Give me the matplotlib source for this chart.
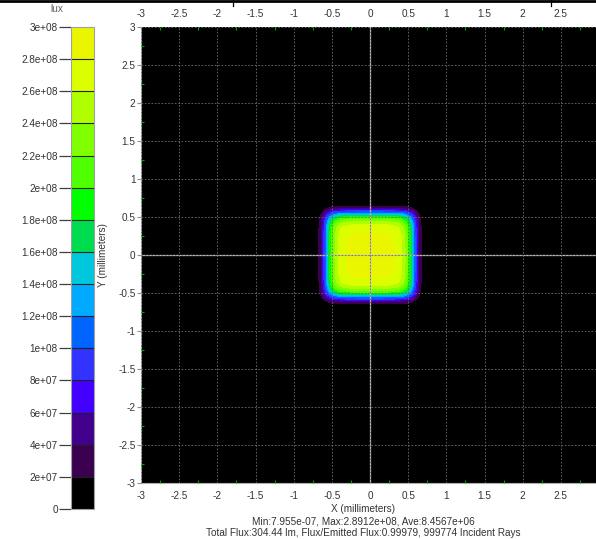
import numpy as np
import matplotlib
matplotlib.use("Agg")
import matplotlib.pyplot as plt
from matplotlib.lines import Line2D

plt.rcParams["font.family"] = ["Liberation Sans", "DejaVu Sans"]

# Illuminance profile across one edge of the spot (mm, lux)
edge_pos = [-0.72, -0.67, -0.64, -0.62, -0.605, -0.59, -0.575, -0.56, -0.545,
            -0.53, -0.51, -0.49, -0.46, -0.42, -0.36, -0.25, 0.0]
edge_lux = [0.0, 2.0e7, 4.0e7, 6.0e7, 8.0e7, 1.0e8, 1.2e8, 1.4e8, 1.6e8,
            1.8e8, 2.0e8, 2.2e8, 2.4e8, 2.6e8, 2.78e8, 2.86e8, 2.89e8]
y_scale = 0.96  # spot is a bit shorter in Y than in X

# colour bands of the legend (lux)
levels = [0, 2e7, 4e7, 6e7, 8e7, 1e8, 1.2e8, 1.4e8, 1.6e8, 1.8e8,
          2e8, 2.2e8, 2.4e8, 2.6e8, 2.8e8, 3e8]
band_colors = ["#000000", "#3c0050", "#42008c", "#4400ff", "#3333ff",
               "#0064ff", "#00aaff", "#00c8dc", "#00dc50", "#00ff00",
               "#50ff00", "#80ff00", "#b0ff00", "#dcff00", "#eaf500"]
cbar_labels = ["0", "2e+07", "4e+07", "6e+07", "8e+07", "1e+08", "1.2e+08",
               "1.4e+08", "1.6e+08", "1.8e+08", "2e+08", "2.2e+08", "2.4e+08",
               "2.6e+08", "2.8e+08", "3e+08"]

x_ticks = [-3, -2.5, -2, -1.5, -1, -0.5, 0, 0.5, 1, 1.5, 2, 2.5]
x_labels = ["-3", "-2.5", "-2", "-1.5", "-1", "-0.5", "0", "0.5", "1", "1.5", "2", "2.5"]
y_ticks = [-3, -2.5, -2, -1.5, -1, -0.5, 0, 0.5, 1, 1.5, 2, 2.5, 3]
y_labels = ["-3", "-2.5", "-2", "-1.5", "-1", "-0.5", "0", "0.5", "1", "1.5", "2", "2.5", "3"]

stats1 = "Min:7.955e-07, Max:2.8912e+08, Ave:8.4567e+06"
stats2 = "Total Flux:304.44 lm, Flux/Emitted Flux:0.99979, 999774 Incident Rays"

# build the symmetric profile and the 2D map
pos = np.array(edge_pos)
val = np.array(edge_lux)
px = np.concatenate([[-3.0], pos, -pos[::-1][1:], [3.0]])
pv = np.concatenate([[0.0], val, val[::-1][1:], [0.0]])
py = np.concatenate([[-3.0], pos * y_scale, -pos[::-1][1:] * y_scale, [3.0]])
peak = val[-1]
Z = np.outer(pv, pv) / peak

W, H = 596, 539
FS = 7.2
TXT = "#333333"
fig = plt.figure(figsize=(W / 100, H / 100), dpi=100)
fig.patch.set_facecolor("white")

ax = fig.add_axes([141 / W, 1 - 483 / H, 455 / W, 456 / H])
ax.set_facecolor("black")
cs = ax.contourf(px, py, Z, levels=levels, colors=band_colors)
ax.set_xlim(-3, 2.96)
ax.set_ylim(-3, 3)

ax.set_axisbelow(False)
ax.grid(True, which="major", color="#6e6e6e", linestyle=(0, (2, 2)), linewidth=0.6)
ax.axhline(0, color="#c0c0c0", lw=0.9)
ax.axvline(0, color="#c0c0c0", lw=0.9)

ax.set_xticks(x_ticks)
ax.set_xticklabels(x_labels)
ax.set_yticks(y_ticks)
ax.set_yticklabels(y_labels)
ax.set_xticks(np.arange(-2.75, 3, 0.5), minor=True)
ax.set_yticks(np.arange(-2.75, 3, 0.5), minor=True)
ax.tick_params(axis="x", which="major", length=0, labelsize=FS, labelcolor=TXT,
               top=True, labeltop=True, pad=5.5)
ax.tick_params(axis="y", which="major", length=3, width=0.8, color="#909090",
               labelsize=FS, labelcolor=TXT, pad=1)
ax.tick_params(which="minor", direction="in", length=2, width=0.8, color="#00a000",
               top=True, right=False, left=True, bottom=True)
for side in ["top", "right"]:
    ax.spines[side].set_visible(False)
for side in ["left", "bottom"]:
    ax.spines[side].set_color("#b0b0b0")
    ax.spines[side].set_linewidth(0.8)

# colour legend
cax = fig.add_axes([71 / W, 1 - 509 / H, 23 / W, 482 / H])
cb = fig.colorbar(cs, cax=cax, drawedges=True)
cb.set_ticks(levels)
cb.set_ticklabels(cbar_labels)
cb.outline.set_edgecolor("#a0a0a0")
cb.outline.set_linewidth(0.8)
cb.dividers.set_color("#202020")
cb.dividers.set_linewidth(0.8)
cax.yaxis.set_ticks_position("left")
cax.tick_params(length=9, width=0.9, color="#404040", labelsize=FS,
                labelcolor=TXT, pad=0.5)
fig.text(57 / W, 1 - 9 / H, "lux", ha="center", va="center", fontsize=FS, color="#606060")

fig.text(103 / W, 1 - 255 / H, "Y (millimeters)", rotation=90, ha="center", va="center",
         fontsize=FS, color=TXT)
fig.text(363 / W, 1 - 509 / H, "X (millimeters)", ha="center", va="center",
         fontsize=FS, color=TXT)
fig.text(363 / W, 1 - 521 / H, stats1, ha="center", va="center", fontsize=FS, color=TXT)
fig.text(363 / W, 1 - 533 / H, stats2, ha="center", va="center", fontsize=FS, color=TXT)

# border from the surrounding table
fig.add_artist(Line2D([0, 1], [1 - 1.3 / H] * 2, color="black", lw=2, transform=fig.transFigure))
for xb in [233, 551]:
    fig.add_artist(Line2D([xb / W] * 2, [1, 1 - 6 / H], color="black", lw=0.9,
                          transform=fig.transFigure))

fig.savefig("out.png", dpi=100)
